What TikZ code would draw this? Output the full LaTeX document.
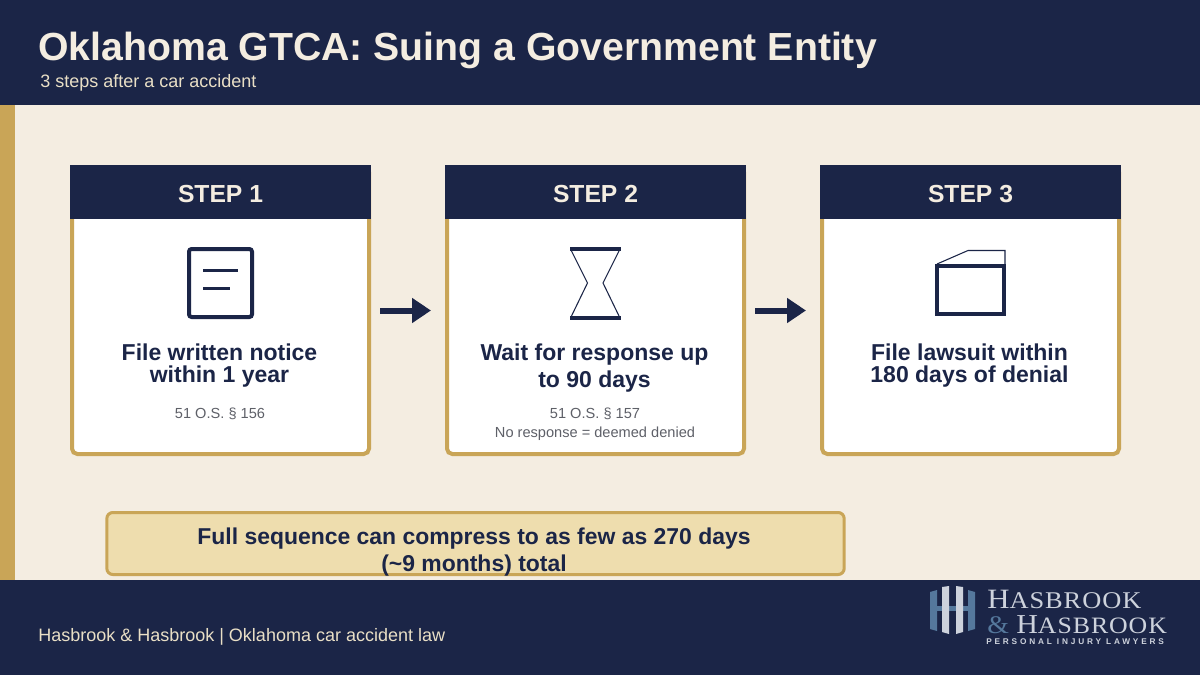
\documentclass[tikz,border=0pt]{standalone}
\usepackage{fontspec}
\setmainfont{Liberation Sans}
\newfontfamily\logoserif[FakeStretch=1.1,LetterSpace=4]{Liberation Serif}
\usetikzlibrary{positioning, arrows.meta}
\definecolor{navy}{HTML}{1B2547}
\definecolor{cream}{HTML}{F4EDE1}
\definecolor{gold}{HTML}{C9A557}
\definecolor{sand}{HTML}{EEDDAE}
\definecolor{subtext}{HTML}{E9DFC6}
\definecolor{greytext}{HTML}{5E6068}
\definecolor{logogrey}{HTML}{CDD2DC}
\definecolor{logoblue}{HTML}{55789C}
\tikzset{
  band/.style={fill=navy, draw=none, minimum width=900pt, inner sep=0pt, outer sep=0pt},
  card/.style={draw=gold, fill=white, line width=3pt, rounded corners=4pt, minimum width=222.75pt, minimum height=215.25pt, inner sep=0pt},
  cardhead/.style={fill=navy, text=cream, font=\fontsize{18.5}{20}\selectfont\bfseries, text height=15pt, text depth=0pt, minimum width=225.75pt, minimum height=40.5pt, inner sep=0pt, outer sep=0pt},
  cardtext/.style={text=navy, font=\fontsize{17.25}{16.5}\selectfont\bfseries, align=center, inner sep=0pt},
  cardnote/.style={text=greytext, font=\fontsize{10.95}{14.25}\selectfont, align=center, inner sep=0pt},
  stepflow/.style={draw=navy, line width=4.5pt, -{Triangle[length=14.25pt,width=18pt]}, shorten <=6.75pt, shorten >=10.5pt},
  iconline/.style={draw=navy, line width=3pt},
  thinline/.style={draw=navy, line width=.8pt},
  pillar/.style={fill=#1, draw=none},
}
\begin{document}
\begin{tikzpicture}[x=.75pt, y=-.75pt]
  \useasboundingbox (0,0) rectangle (1200,675);
  \fill[cream] (0,0) rectangle (1200,675);
  \node[band, anchor=north west, minimum height=78.75pt] (top) at (0,0) {};
  \node[band, anchor=south west, minimum height=71.25pt] (bottom) at (0,675) {};
  \fill[gold] (0,105) rectangle (15,580);

  \node[anchor=base west, inner sep=0pt, text=cream, font=\fontsize{29.4}{30}\selectfont\bfseries] (title) at (38,60) {Oklahoma GTCA: Suing a Government Entity};
  \node[anchor=base west, inner sep=0pt, text=subtext, font=\fontsize{13.5}{15}\selectfont] (subtitle) at (40,87) {3 steps after a car accident};
  \node[anchor=base west, inner sep=0pt, text=subtext, font=\fontsize{13.5}{15}\selectfont] (footer) at (38,641) {Hasbrook \& Hasbrook | Oklahoma car accident law};

  % cards
  \node[card] (card1) at (220.5,310.5) {};
  \node[card, right=55.5pt of card1] (card2) {};
  \node[card, right=55.5pt of card2] (card3) {};
  \node[cardhead, anchor=north] (head1) at (card1.north) {STEP 1};
  \node[cardhead, anchor=north] (head2) at (card2.north) {STEP 2};
  \node[cardhead, anchor=north] (head3) at (card3.north) {STEP 3};

  \draw[stepflow] (card1) -- (card2);
  \draw[stepflow] (card2) -- (card3);

  % icons
  \draw[iconline, rounded corners=2pt] (189,249) rectangle (252,317);
  \draw[navy, line width=2.25pt] (203,270) -- (238,270);
  \draw[navy, line width=2.25pt] (203,288) -- (230,288);

  \draw[iconline] (570,249) -- (621,249);
  \draw[iconline] (570,318) -- (621,318);
  \draw[thinline] (571,250) -- (587.5,283) -- (571,317);
  \draw[thinline] (619.5,250) -- (603,283) -- (619.5,317);

  \draw[iconline] (937,266) rectangle (1004,314);
  \draw[thinline] (937,264) -- (968,250.5) -- (1005,250.5) -- (1005,264);

  % texts
  \node[cardtext, anchor=north] (text1) at (219.5,343.5) {File written notice\\within 1 year};
  \node[cardtext, anchor=north] (text2) at (594.5,343.5) {Wait for response up\\[4pt]to 90 days};
  \node[cardtext, anchor=north] (text3) at (969.5,343.5) {File lawsuit within\\180 days of denial};
  \node[cardnote, anchor=north] (note1) at (220,408) {51 O.S. § 156};
  \node[cardnote, anchor=north] (note2) at (595,408) {51 O.S. § 157\\No response = deemed denied};

  % banner
  \node[draw=gold, fill=sand, line width=2.25pt, rounded corners=4.5pt, minimum width=553pt, minimum height=46.5pt, inner sep=0pt] (banner) at (475.5,543.5) {};
  \node[text=navy, font=\fontsize{17.2}{20.25}\selectfont\bfseries, align=center, inner sep=0pt, anchor=north] (bannertext) at (474,528) {Full sequence can compress to as few as 270 days\\(\textasciitilde 9 months) total};

  % logo
  \fill[pillar=logoblue] (930,592) -- (937,590) -- (937,631) -- (930,629) -- cycle;
  \fill[pillar=logoblue] (968,590) -- (975,592) -- (975,629) -- (968,631) -- cycle;
  \fill[pillar=logoblue] (937,606) rectangle (968,611);
  \fill[pillar=logogrey] (942,587) -- (949,586) -- (949,634) -- (942,632) -- cycle;
  \fill[pillar=logogrey] (956,586) -- (963,587) -- (963,632) -- (956,634) -- cycle;
  \node[anchor=base west, inner sep=0pt, text=logogrey, font=\logoserif\fontsize{21}{22}\selectfont] (logoa) at (987,608) {H\fontsize{18}{22}\selectfont ASBROOK};
  \node[anchor=base west, inner sep=0pt, text=logoblue, font=\logoserif\fontsize{19}{20}\selectfont] (logoamp) at (987,633) {\&};
  \node[anchor=base west, inner sep=0pt, text=logogrey, font=\logoserif\fontsize{20.5}{22}\selectfont] (logob) at (1016,633) {H\fontsize{17.6}{22}\selectfont ASBROOK};
  \node[anchor=base west, inner sep=0pt, text=logogrey, font=\addfontfeature{LetterSpace=34}\fontsize{6.2}{7}\selectfont\bfseries] (logoc) at (986,644) {PERSONAL INJURY LAWYERS};
\end{tikzpicture}
\end{document}
